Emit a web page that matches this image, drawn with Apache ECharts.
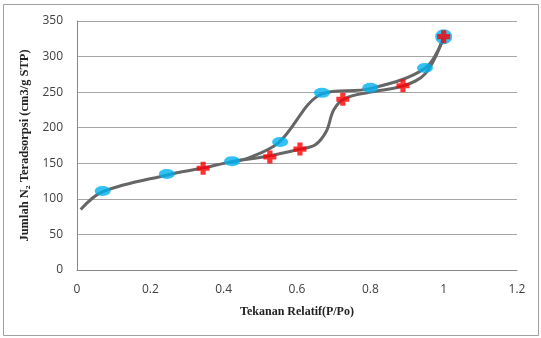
<!DOCTYPE html>
<html><head><meta charset="utf-8">
<script src="https://cdn.jsdelivr.net/npm/echarts@6/dist/echarts.min.js"></script>
<style>html,body{margin:0;padding:0;background:#fff}#c{width:541px;height:338px}</style>
</head><body><div id="c"></div>
<script>
// Adsorption branch (lower curve)
const adsorptionCurve = [[0.01,85],[0.07,110],[0.25,134],[0.34,143],[0.42,152],[0.52,160],[0.61,170],[0.65,176],[0.68,195],[0.70,225],[0.73,241],[0.8,250],[0.89,259],[0.95,276],[1.0,327]];
// Desorption branch (upper curve)
const desorptionCurve = [[1.0,327],[0.95,284],[0.8,255],[0.67,248],[0.55,179],[0.47,158],[0.42,152]];
// Blue ellipse markers
const blueMarks = [[0.07,111],[0.245,135],[0.423,153],[0.554,180],[0.668,249],[0.80,256],[0.949,284]];
const blueEnd = [[1.0,328]];
// Red cross markers
const redMarks = [[0.344,143],[0.526,159],[0.608,170],[0.725,240],[0.889,259],[1.0,328]];
const xTicks = [0,0.2,0.4,0.6,0.8,1,1.2];
const yTicks = [0,50,100,150,200,250,300,350];

const cross = 'path://M3,0 L7,0 L7,3 L10,3 L10,7 L7,7 L7,10 L3,10 L3,7 L0,7 L0,3 L3,3 Z';
const chart = echarts.init(document.getElementById('c'));
chart.setOption({
  animation:false,
  grid:{left:77,right:24,top:21,bottom:68},
  xAxis:{type:'value',min:0,max:1.2,interval:0.2,
    axisLine:{lineStyle:{color:'#888'}},axisTick:{show:false},splitLine:{show:false},
    axisLabel:{color:'#404040',fontSize:12,fontFamily:'Open Sans',margin:14,formatter:v=>String(+v.toFixed(1))},
    name:'Tekanan Relatif(P/Po)',nameLocation:'middle',nameGap:36,
    nameTextStyle:{fontFamily:'Liberation Serif',fontWeight:'bold',fontSize:12,color:'#222'}},
  yAxis:{type:'value',min:0,max:350,interval:50,
    axisLine:{show:true,lineStyle:{color:'#888'}},axisTick:{show:false},
    splitLine:{lineStyle:{color:'#a6a6a6',width:1}},
    axisLabel:{color:'#404040',fontSize:12,fontFamily:'Open Sans',margin:14},
    name:'Jumlah N\u2082 Teradsorpsi (cm3/g STP)',nameLocation:'middle',nameGap:46,
    nameTextStyle:{fontFamily:'Liberation Serif',fontWeight:'bold',fontSize:12.5,color:'#222'}},
  graphic:[{type:'rect',shape:{x:3.5,y:4.5,width:535,height:331},style:{fill:'none',stroke:'#a0a0a0',lineWidth:1},silent:true}],
  series:[
    {type:'line',data:adsorptionCurve,smooth:0.35,showSymbol:false,lineStyle:{color:'#666',width:3}},
    {type:'line',data:desorptionCurve,smooth:0.35,showSymbol:false,lineStyle:{color:'#666',width:3}},
    {type:'scatter',data:blueMarks,symbol:'circle',symbolSize:[16,10],itemStyle:{color:'#00b0f0'},z:5},
    {type:'scatter',data:blueEnd,symbol:'circle',symbolSize:[17,15],itemStyle:{color:'#00b0f0'},z:5},
    {type:'scatter',data:redMarks,symbol:cross,symbolSize:[13,13],itemStyle:{color:'#ff0000'},z:6}
  ]
});
</script></body></html>
